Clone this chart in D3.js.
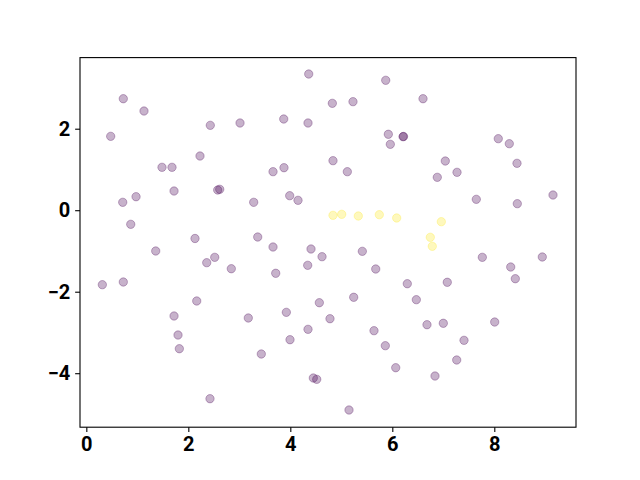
<!DOCTYPE html>
<html><head><meta charset="utf-8">
<script src="https://cdn.jsdelivr.net/npm/d3@7"></script>
<style>body{margin:0;background:#fff}</style>
</head><body><svg id="c" width="640" height="480"></svg>
<script>
const purpleX = [0.725,1.131,2.431,3.014,0.478,2.229,1.484,1.680,1.720,2.576,2.616,0.975,0.714,0.871,2.131,
4.361,5.871,4.824,5.229,3.871,4.347,5.922,5.961,6.210,6.220,4.837,5.118,3.661,3.876,3.988,4.151,3.282,3.361,
6.602,8.078,8.294,7.039,7.269,6.882,8.445,7.647,8.451,9.151,1.361,2.361,2.518,2.843,0.314,0.725,2.165,1.720,
1.798,1.824,2.425,3.661,4.406,4.622,5.412,4.341,5.675,3.714,6.294,5.243,4.569,3.922,3.176,4.778,4.347,5.641,
3.994,5.863,3.431,6.067,4.451,4.518,5.151,7.765,8.941,8.322,8.412,6.471,6.680,7.000,8.008,7.406,7.263,6.837,7.078];
const purpleY = [2.736,2.434,2.083,2.140,1.813,1.330,1.053,1.053,0.471,0.496,0.513,0.331,0.194,-0.346,-0.694,
3.342,3.188,2.623,2.663,2.238,2.140,1.863,1.617,1.804,1.810,1.215,0.945,0.945,1.043,0.356,0.243,0.194,-0.658,
2.736,1.755,1.632,1.207,0.930,0.807,1.151,0.267,0.160,0.373,-1.001,-1.288,-1.156,-1.436,-1.828,-1.762,-2.228,-2.596,
-3.063,-3.399,-4.626,-0.903,-0.952,-1.141,-1.009,-1.352,-1.443,-1.548,-1.804,-2.137,-2.270,-2.506,-2.645,-2.663,-2.923,-2.957,
-3.178,-3.325,-3.529,-3.865,-4.118,-4.150,-4.903,-1.156,-1.148,-1.394,-1.681,-2.196,-2.810,-2.775,-2.744,-3.193,-3.676,-4.069,-1.769];
const yellowX = [4.837,5.008,5.333,5.745,6.086,6.961,6.745,6.784];
const yellowY = [-0.125,-0.101,-0.142,-0.110,-0.191,-0.282,-0.665,-0.886];
const xTicks = [0,2,4,6,8];
const yTicks = [-4,-2,0,2];

const L=80,R=576,T=57.6,B=427.2;
const svg=d3.select('#c');
const x=d3.scaleLinear().domain([-0.124,9.602]).range([L,R]);
const y=d3.scaleLinear().domain([-5.325,3.745]).range([B,T]);

const pts=[];
purpleX.forEach((v,i)=>pts.push({x:v,y:purpleY[i],c:'#440154'}));
yellowX.forEach((v,i)=>pts.push({x:v,y:yellowY[i],c:'#fde725'}));

svg.append('g').selectAll('circle').data(pts).join('circle')
  .attr('cx',d=>x(d.x)).attr('cy',d=>y(d.y)).attr('r',4.17)
  .attr('fill',d=>d.c).attr('fill-opacity',0.3)
  .attr('stroke',d=>d.c).attr('stroke-opacity',0.3).attr('stroke-width',1.0);

const fmt=d=>d<0?'\u2212'+Math.abs(d):String(d);
const xa=svg.append('g').attr('transform',`translate(0,${B})`)
  .call(d3.axisBottom(x).tickValues(xTicks).tickFormat(fmt).tickSize(4.86).tickPadding(4.9));
const ya=svg.append('g').attr('transform',`translate(${L},0)`)
  .call(d3.axisLeft(y).tickValues(yTicks).tickFormat(fmt).tickSize(4.86).tickPadding(4.9));
[xa,ya].forEach(a=>{
  a.select('.domain').remove();
  a.selectAll('line').attr('stroke','#000').attr('stroke-width',1.1);
  a.selectAll('text').attr('fill','#000').style('font-family','Roboto, "Liberation Sans", sans-serif').style('font-weight','bold').style('font-size','20px');
});
svg.append('rect').attr('x',L).attr('y',T).attr('width',R-L).attr('height',B-T)
  .attr('fill','none').attr('stroke','#000').attr('stroke-width',1.1);
</script></body></html>
